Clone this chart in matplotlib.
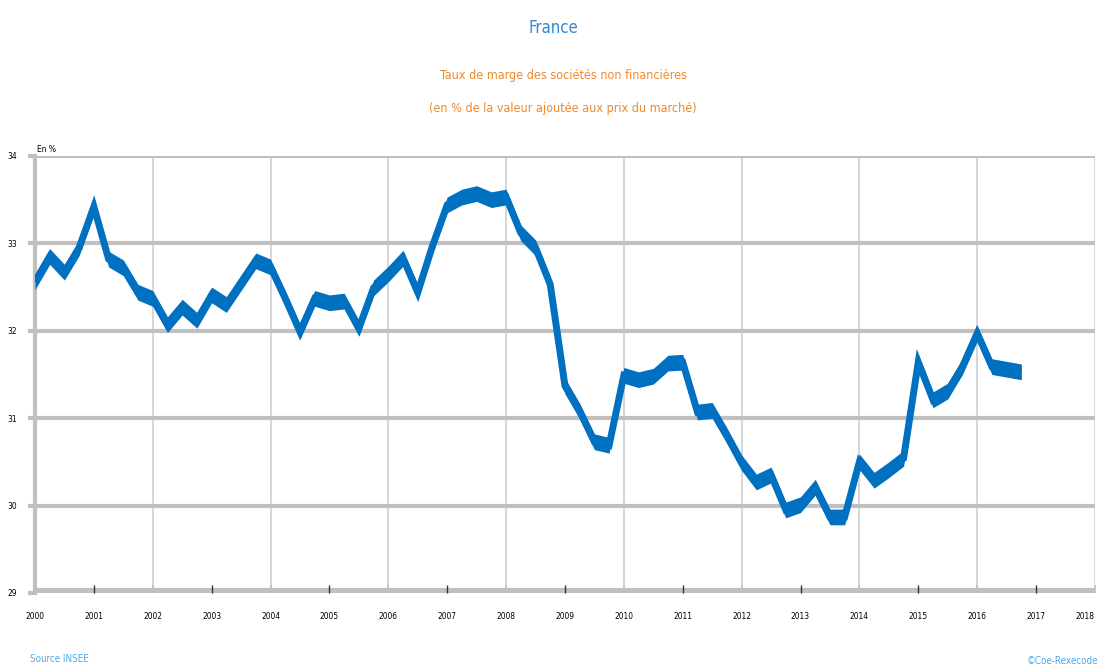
import numpy as np
import matplotlib
matplotlib.use("Agg")
import matplotlib.pyplot as plt

# Taux de marge des SNF, trimestriel, 2000T1 -> 2016T4
taux_marge = [32.56, 32.85, 32.67, 32.95, 33.42, 32.82, 32.72, 32.44,
              32.37, 32.07, 32.27, 32.12, 32.41, 32.30, 32.55, 32.80,
              32.73, 32.37, 31.99, 32.37, 32.32, 32.34, 32.03, 32.49,
              32.65, 32.83, 32.44, 32.97, 33.44, 33.53, 33.57, 33.50,
              33.53, 33.12, 32.95, 32.53, 31.37, 31.08, 30.73, 30.69,
              31.49, 31.44, 31.48, 31.63, 31.64, 31.07, 31.09, 30.80,
              30.49, 30.27, 30.35, 29.95, 30.01, 30.21, 29.87, 29.87,
              30.50, 30.29, 30.41, 30.54, 31.64, 31.21, 31.31, 31.59,
              31.97, 31.59, 31.56, 31.53]
annee_debut = 2000
annees = list(range(2000, 2019))
y_ticks = [29, 30, 31, 32, 33, 34]

blue = '#0070C0'
grey = '#C0C0C0'

x = annee_debut + np.arange(len(taux_marge)) * 0.25
y = np.array(taux_marge)

fig = plt.figure(figsize=(11, 6.72), dpi=100)
ax = fig.add_axes([0.0318, 0.1176, 0.9636, 0.6503])

# Horizontal grid (thick grey)
for v in y_ticks[1:]:
    ax.axhline(v, color=grey, lw=3, zorder=1)
ax.axhline(y_ticks[0], color=grey, lw=8, zorder=1)

# Vertical grid at even years
for a in annees[2::2]:
    ax.axvline(a, color='#D0D0D0', lw=1.2, zorder=0)

# Ribbon-like thick line
half = 0.09
ax.fill_between(x, y - half, y + half, color=blue, lw=0, zorder=3)
ax.plot(x, y, color=blue, lw=5, solid_joinstyle='miter',
        solid_capstyle='butt', zorder=3)

ax.set_xlim(annees[0], annees[-1])
ax.set_ylim(y_ticks[0], y_ticks[-1])

odd = [a for a in annees if a % 2 == 1]
even = [a for a in annees if a % 2 == 0]
ax.set_xticks(odd, labels=[str(a) for a in odd])
ax.set_xticks(even, labels=[str(a) for a in even], minor=True)
ax.tick_params(axis='x', which='major', direction='in', length=6, width=1,
               color='#333333', pad=14, labelsize=6)
ax.tick_params(axis='x', which='minor', direction='in', length=6, width=1.2,
               color=grey, pad=14, labelsize=6)
ax.set_yticks(y_ticks, labels=[str(v) for v in y_ticks])
ax.tick_params(axis='y', direction='out', length=5, width=3, color=grey,
               pad=8, labelsize=6)
for lab in ax.get_xticklabels(which='both') + ax.get_yticklabels():
    lab.set_fontstretch('condensed')
ax.get_xticklabels(which='minor')[-1].set_horizontalalignment('right')

for s in ['top', 'right', 'bottom']:
    ax.spines[s].set_visible(False)
ax.spines['left'].set_color(grey)
ax.spines['left'].set_linewidth(3)

ax.text(0.002, 1.005, 'En %', transform=ax.transAxes, fontsize=6,
        ha='left', va='bottom', fontstretch='condensed')

fig.text(0.503, 0.958, 'France', color='#2E8AD8', fontsize=12,
         ha='center', va='center', fontstretch='condensed')
fig.text(0.512, 0.888, 'Taux de marge des sociétés non financières',
         color='#F0882C', fontsize=9, ha='center', va='center',
         fontstretch='condensed')
fig.text(0.512, 0.838, '(en % de la valeur ajoutée aux prix du marché)',
         color='#F0882C', fontsize=9, ha='center', va='center',
         fontstretch='condensed')

fig.text(0.027, 0.012, 'Source INSEE', color='#4DA6E8', fontsize=7,
         ha='left', va='bottom', fontstretch='condensed')
fig.text(0.998, 0.009, '©Coe-Rexecode', color='#4DA6E8', fontsize=7,
         ha='right', va='bottom', fontstretch='condensed')

fig.savefig('out.png', dpi=100)
